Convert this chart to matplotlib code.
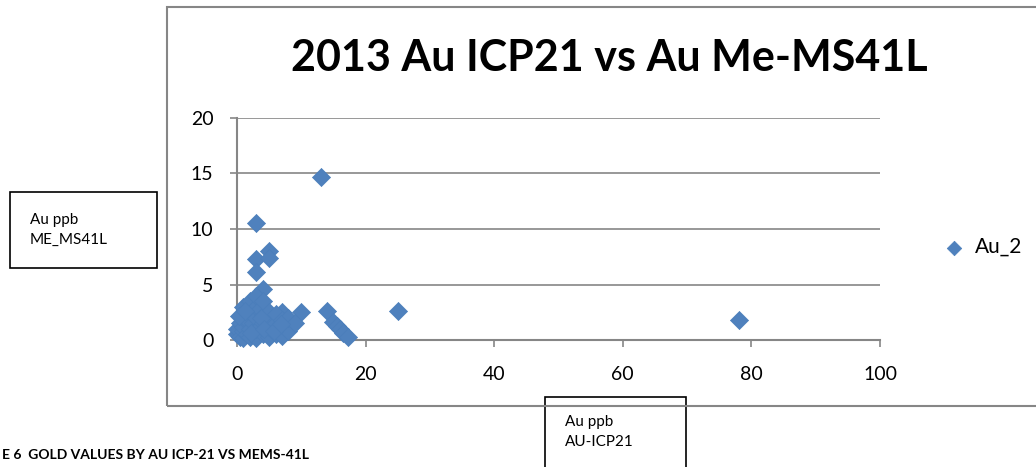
import matplotlib
matplotlib.use("Agg")
import matplotlib.pyplot as plt
from matplotlib.patches import Rectangle

plt.rcParams['font.family'] = ['Lato', 'DejaVu Sans']

title = "2013 Au ICP21 vs Au Me-MS41L"
series_name = "Au_2"
y_label = "Au ppb\nME_MS41L"
x_label = "Au ppb\nAU-ICP21"
caption = "E 6  GOLD VALUES BY AU ICP-21 VS MEMS-41L"
x_ticks = [0, 20, 40, 60, 80, 100]
y_ticks = [0, 5, 10, 15, 20]

au_icp21 = [13, 3, 5, 3, 5, 3, 4, 14, 25, 78, 15, 15.5, 16, 16.5, 17.2, 10, 7,
            0, 0, 0.5, 0.5, 1, 1, 1, 1, 1, 1.5, 1.5, 2, 2, 2, 2, 2.5, 2.5,
            3, 3, 3, 3, 3, 3.5, 3.5, 4, 4, 4, 4, 4.5, 4.5, 5, 5, 5, 5.5,
            6, 6, 6, 6.5, 7, 7, 7.5, 8, 8, 9, 0.3, 1.2, 2.2, 3.8, 4.2, 5.8, 6.8]
au_ms41l = [14.7, 10.5, 8.0, 7.3, 7.4, 6.1, 4.6, 2.6, 2.6, 1.8, 1.6, 1.3, 1.0, 0.6, 0.3, 2.5, 2.5,
            0.5, 1.0, 0.3, 1.5, 0.2, 0.8, 1.2, 2.0, 3.0, 0.5, 1.8, 0.3, 1.0, 2.5, 3.5, 0.7, 1.5,
            0.2, 1.0, 2.0, 3.0, 4.0, 1.2, 2.8, 0.5, 1.5, 2.2, 3.5, 0.8, 2.0, 0.3, 1.2, 2.5, 1.8,
            0.5, 1.5, 2.3, 1.0, 0.4, 1.8, 1.2, 0.8, 2.0, 1.5, 2.2, 2.6, 0.6, 2.0, 1.0, 0.8, 1.4]

fig = plt.figure(figsize=(10.36, 4.67), dpi=100)
W, H = 1036, 467

# chart area border
fig.patches.append(Rectangle((167 / W, 1 - 406 / H), (1040 - 167) / W, (406 - 7) / H,
                             transform=fig.transFigure, fill=False, edgecolor='#868686', lw=1.5))

ax = fig.add_axes([237 / W, 1 - 340 / H, (880 - 237) / W, (340 - 118) / H])
ax.scatter(au_icp21, au_ms41l, marker='D', s=85, color='#4F81BD', edgecolors='#4A7EBB',
           linewidths=0.5, zorder=3, clip_on=False, label=series_name)
ax.set_xlim(0, 100)
ax.set_ylim(0, 20)
ax.set_xticks(x_ticks)
ax.set_yticks(y_ticks)
ax.tick_params(labelsize=14, colors='#868686', labelcolor='black', length=5, width=1.2)
ax.tick_params(axis='x', pad=14)
ax.tick_params(axis='y', pad=12)
ax.grid(axis='y', color='#868686', lw=1.2)
ax.set_axisbelow(True)
for s in ['top', 'right']:
    ax.spines[s].set_visible(False)
for s in ['left', 'bottom']:
    ax.spines[s].set_color('#868686')
    ax.spines[s].set_linewidth(1.5)

fig.text(609 / W, 1 - 58 / H, title, ha='center', va='center', fontsize=31, fontweight='bold')

# legend
fig.legend(loc='center left', bbox_to_anchor=(925 / W, 1 - 247 / H), frameon=False,
           fontsize=15, handletextpad=0.0, borderaxespad=0, markerscale=0.8)

# axis title boxes
fig.text(30 / W, 1 - 230 / H, y_label, ha='left', va='center', fontsize=11, linespacing=1.6)
fig.patches.append(Rectangle((10 / W, 1 - 268 / H), (157 - 10) / W, (268 - 192) / H,
                             transform=fig.transFigure, fill=True, facecolor='white',
                             edgecolor='black', lw=1.2, zorder=0))
fig.patches.append(Rectangle((545 / W, 1 - 470 / H), (686 - 545) / W, (470 - 397) / H,
                             transform=fig.transFigure, fill=True, facecolor='white',
                             edgecolor='black', lw=1.2, zorder=0))
fig.text(565 / W, 1 - 432 / H, x_label, ha='left', va='center', fontsize=11, linespacing=1.6)

fig.text(2 / W, 1 - 455 / H, caption, ha='left', va='center', fontsize=10, fontweight='bold')

fig.savefig("out.png", dpi=100)
